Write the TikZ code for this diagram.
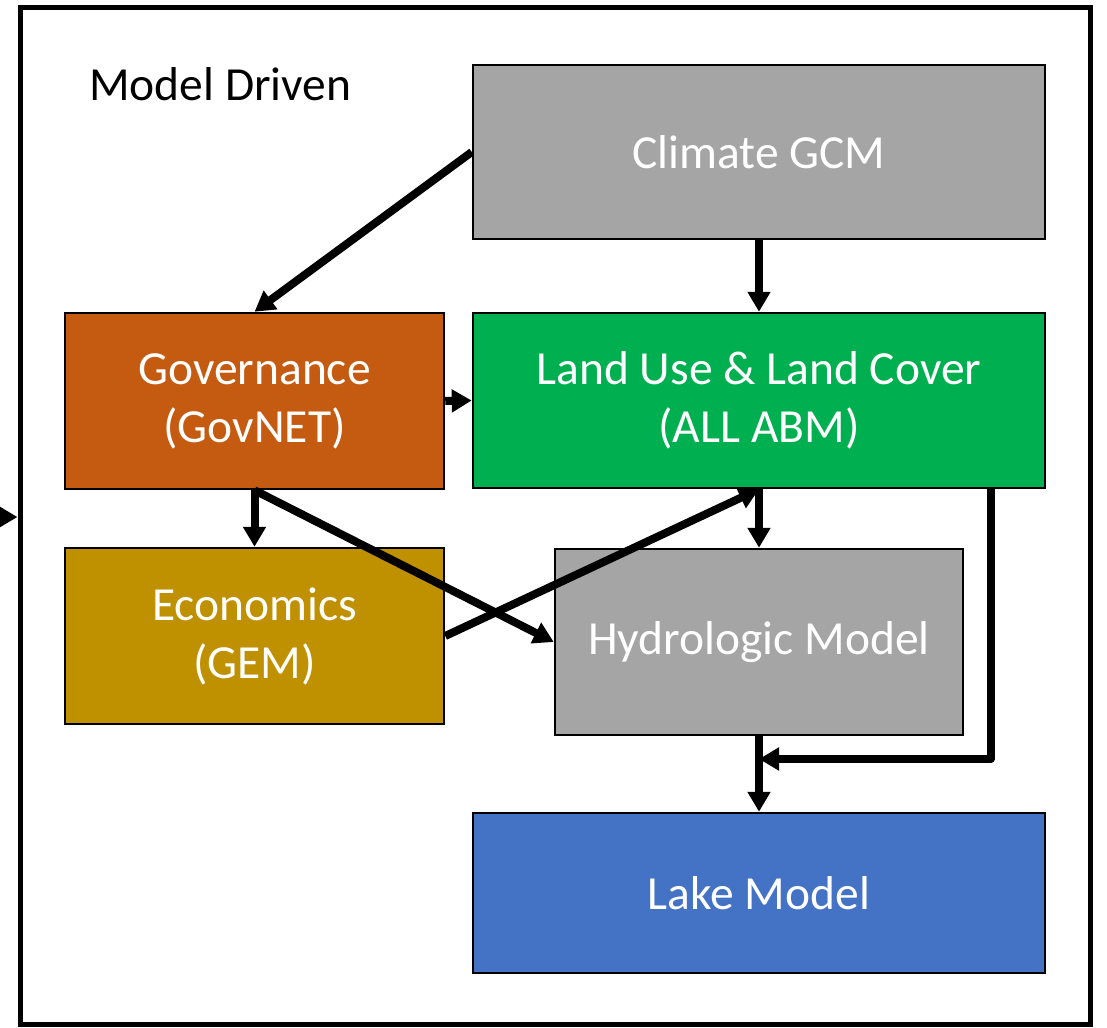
\documentclass[tikz,border=0pt]{standalone}
\usepackage{fontspec}
\setmainfont{Carlito}
\usetikzlibrary{arrows.meta}

\definecolor{gcmgray}{HTML}{A5A5A5}
\definecolor{govorange}{HTML}{C55A11}
\definecolor{lucgreen}{HTML}{00B050}
\definecolor{gemgold}{HTML}{BF9000}
\definecolor{lakeblue}{HTML}{4472C4}

\begin{document}
\begin{tikzpicture}[x=1pt,y=-1pt,
    box/.style={draw=black,line width=2.5pt,text=white,align=center,
      inner sep=0pt,font=\fontsize{47.5}{58}\selectfont},
    flow/.style={line width=8pt,-{Triangle[length=20pt,width=22pt]}}]
  \useasboundingbox (0,0) rectangle (1107,1027);
  % outer frame
  \node[draw=black,line width=5pt,minimum width=1070pt,minimum height=1016pt,
    inner sep=0pt] (frame) at (555,516) {};
  \node[anchor=base west,inner sep=0pt,font=\fontsize{47.5}{58}\selectfont]
    (title) at (89,101) {Model Driven};
  % model boxes
  \node[box,fill=gcmgray,minimum width=572pt,minimum height=174pt]
    (gcm) at (759,152) {Climate GCM};
  \node[box,fill=govorange,minimum width=379pt,minimum height=176pt]
    (gov) at (254.5,401) {Governance\\(GovNET)};
  \node[box,fill=lucgreen,minimum width=572pt,minimum height=175pt]
    (luc) at (759,400.5) {Land Use \& Land Cover\\(ALL ABM)};
  \node[box,fill=gemgold,minimum width=379pt,minimum height=176pt]
    (gem) at (254.5,636) {Economics\\(GEM)};
  \node[box,fill=gcmgray,minimum width=408pt,minimum height=186pt]
    (hydro) at (759,642) {Hydrologic Model};
  \node[box,fill=lakeblue,minimum width=572pt,minimum height=160pt]
    (lake) at (759,893) {Lake Model};
  % incoming arrow from the left
  \coordinate (inlet) at (-40,517);
  \draw[flow] (inlet) -- (inlet -| frame.west);
  % links between models
  \draw[flow] (gcm.west) -- (gov.north);
  \draw[flow] (gcm.south) -- (luc.north);
  \draw[flow] (gov.east) -- (luc.west);
  \draw[flow] (gov.south) -- (gem.north);
  \draw[flow] (gov.south) -- (hydro.west);
  \draw[flow] (gem.east) -- (luc.south);
  \draw[flow] (luc.south) -- (hydro.north);
  \draw[flow] (hydro.south) -- (lake.north);
  % land use bypass into lake model
  \coordinate (bend) at (991,759);
  \coordinate (merge) at (hydro.south |- bend);
  \draw[flow,line join=round] (luc.south -| bend) -- (bend) -- (merge);
\end{tikzpicture}
\end{document}
